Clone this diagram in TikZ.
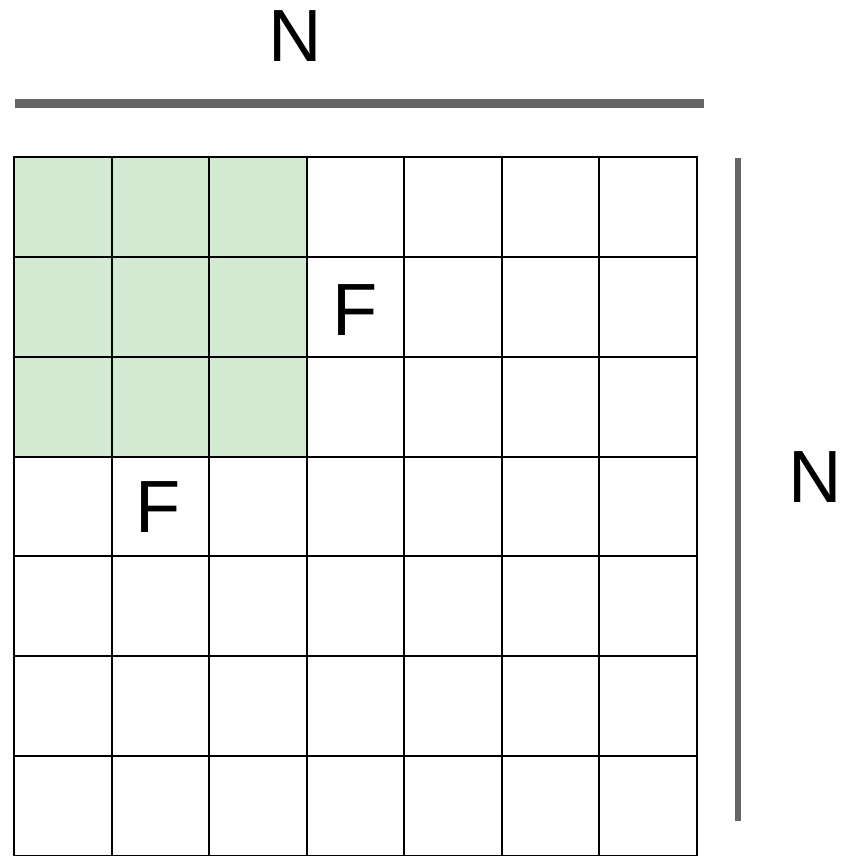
\documentclass[tikz,border=0pt]{standalone}
\usepackage{fontspec}
\setmainfont{Liberation Sans}
\definecolor{cellgreen}{HTML}{D4E9D2}
\definecolor{bargray}{HTML}{666666}
\begin{document}
\begin{tikzpicture}[x=1pt,y=-1pt,
  lbl/.style={font=\fontsize{74}{74}\selectfont, inner sep=0pt, anchor=center},
  gridline/.style={line width=2pt, black},
  bar/.style={line width=#1, bargray}]
\useasboundingbox (0,0) rectangle (846,856);
% green area
\fill[cellgreen] (14,157) rectangle (306.7,456.6);
% grid
\foreach \i in {0,...,7} {
  \draw[gridline] ({14+\i*97.57},157) -- ({14+\i*97.57},860);
  \draw[gridline] (13,{157+\i*99.86}) -- (698,{157+\i*99.86});
}
% bars
\coordinate (t1) at (15,103.5);
\coordinate (t2) at (704,103.5);
\draw[bar=8.5pt] (t1) -- (t2);
\coordinate (r1) at (738,158);
\coordinate (r2) at (738,821);
\draw[bar=6pt] (r1) -- (r2);
% labels
\node[lbl] (ntop) at (295,36) {N};
\node[lbl] (nright) at (815,477) {N};
\node[lbl] (f1) at (355,310) {F};
\node[lbl] (f2) at (158,507) {F};
\end{tikzpicture}
\end{document}
